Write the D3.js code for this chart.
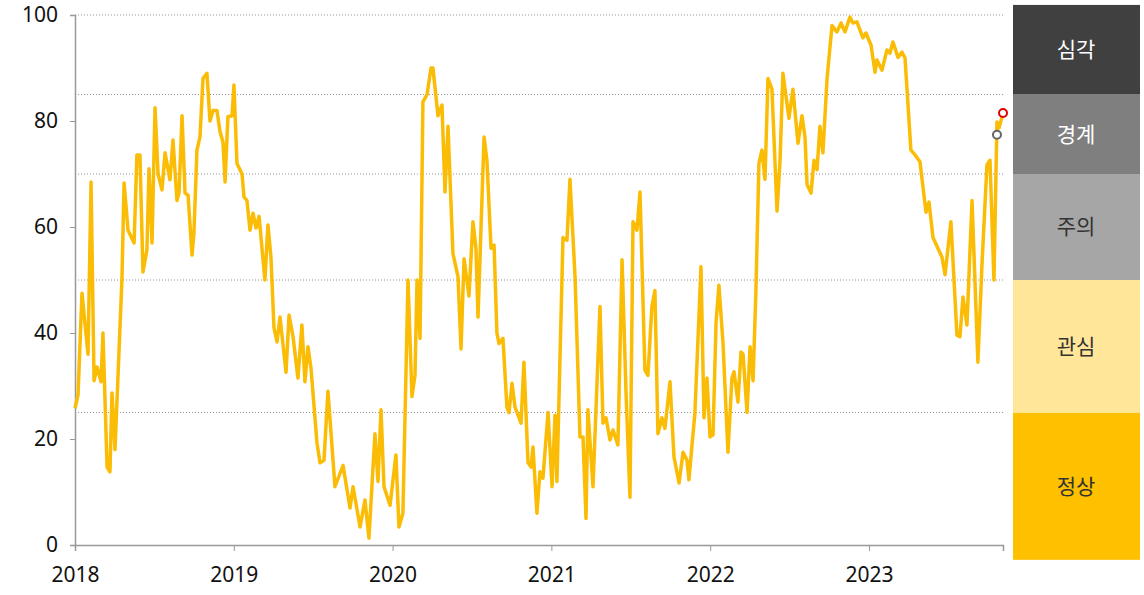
<!DOCTYPE html>
<html><head><meta charset="utf-8">
<script src="https://cdn.jsdelivr.net/npm/d3@7"></script>
<style>body{margin:0;background:#fff;font-family:"Noto Sans CJK KR","Noto Sans",sans-serif}</style>
</head><body><svg id="c" width="1144" height="595"></svg>
<script>
// decimal years since 2018 and index values
const times = [0,.019,.044,.082,.101,.120,.139,.164,.176,.202,.220,.233,.252,.296,.309,.334,.372,.390,.409,.428,.453,.466,.485,.504,.523,.548,.567,.598,.617,.642,.655,.674,.693,.712,.737,.749,.768,.787,.806,.831,.850,.869,.894,.913,.932,.945,.963,.989,1.001,1.020,1.052,1.064,1.083,1.102,1.121,1.140,1.159,1.196,1.215,1.234,1.253,1.272,1.291,1.329,1.348,1.373,1.404,1.429,1.448,1.467,1.486,1.524,1.543,1.568,1.593,1.637,1.688,1.732,1.751,1.795,1.826,1.851,1.889,1.908,1.927,1.946,1.984,2.021,2.040,2.065,2.097,2.122,2.141,2.154,2.173,2.191,2.217,2.242,2.254,2.286,2.311,2.330,2.349,2.380,2.412,2.431,2.450,2.481,2.506,2.525,2.538,2.576,2.594,2.620,2.639,2.657,2.670,2.695,2.720,2.733,2.752,2.771,2.809,2.827,2.853,2.872,2.884,2.909,2.928,2.947,2.979,3.004,3.023,3.035,3.073,3.098,3.117,3.149,3.180,3.199,3.218,3.230,3.262,3.306,3.325,3.344,3.369,3.388,3.419,3.445,3.470,3.495,3.514,3.539,3.558,3.589,3.608,3.633,3.652,3.671,3.696,3.715,3.747,3.772,3.804,3.829,3.854,3.866,3.904,3.942,3.961,3.980,3.999,4.018,4.037,4.055,4.081,4.112,4.137,4.150,4.175,4.194,4.207,4.232,4.251,4.270,4.288,4.307,4.326,4.345,4.364,4.389,4.421,4.440,4.458,4.496,4.521,4.553,4.578,4.597,4.610,4.635,4.654,4.673,4.691,4.710,4.736,4.767,4.798,4.824,4.849,4.880,4.899,4.924,4.962,4.981,5.013,5.038,5.050,5.082,5.113,5.132,5.151,5.183,5.208,5.227,5.264,5.290,5.321,5.359,5.378,5.403,5.460,5.479,5.516,5.554,5.573,5.592,5.617,5.649,5.686,5.712,5.743,5.762,5.787,5.806,5.819,5.844];
const values = [25.8,28.3,47.5,36,68.5,31,33.6,30.8,40,14.7,13.8,28.7,18,50.4,68.3,59.4,57,73.6,73.6,51.5,55.7,71,57,82.5,70,67,74,68.9,76.4,65,66.4,81,66.4,66,54.7,58.9,74.5,77,88,89,80,82,82,78,76,68.5,80.8,81,86.8,72,70,65.7,65,59.4,62.6,59.8,62,50,60.4,54.3,41,38.3,43,32.6,43.4,39.3,31.5,41.5,30.8,37.4,33.4,19.2,15.5,16,29,11,15,7,11,3.4,8.5,1.3,21,12,25.5,11,7.5,17,3.4,6,50,28,32,50,39,83.6,85,90,90,81,83,66.6,79,55,50.6,37,54,47,61,56,43,77,72.6,56,56.6,40,38,39,26,25,30.5,26,23,34.5,15.5,14.7,18.5,6,13.8,12.6,25,11,24.5,12,58,57.5,69,50.6,20.4,20.4,5,25.5,11,45,23,24,19.8,21.7,18.9,53.8,28.7,9,61,59.4,66.6,33,32,45,48,21,24,22,30.8,16.6,11.7,17.5,16,12.3,25,52.5,24,31.5,20.4,20.8,42,49,38,17.5,31.5,32.7,27,36.4,36,25,37.4,31,48,72,74.5,69,88,86,63,72.6,89,80.5,86,75.8,81,77,68,66.4,72.6,70.8,79,74,88,98,96.8,98.5,96.8,99.6,98.5,98.7,95.7,96.6,94.3,89.2,91.5,89.6,93.4,92.8,94.9,92,93,91.9,74.5,73.6,72.3,62.8,64.7,58,54.3,51,61,39.6,39.3,46.8,41.5,65,34.5,53.2,71.7,72.6,50,79.8,78.7,81.5];
const prevPoint = [5.806, 77.4];
const lastPoint = [5.844, 81.5];
const yearTicks = [0,1,2,3,4,5];
const yTicks = [0,20,40,60,80,100];
const gridLevels = [25,50,70,85,100];
const bandNames = ['정상','관심','주의','경계','심각'];
const bandEdges = [-2.8,25,50,70,85,101.9];
const bandColors = ['#ffc000','#ffe699','#a6a6a6','#7f7f7f','#404040'];
const bandText = ['#333','#333','#333','#fff','#fff'];

const svg = d3.select('#c');
const x = d3.scaleLinear().domain([0,5.844]).range([75,1003]);
const y = d3.scaleLinear().domain([0,100]).range([545,15]);

svg.append('g').selectAll('line').data(gridLevels).join('line')
  .attr('x1',75).attr('x2',1003).attr('y1',d=>y(d)).attr('y2',d=>y(d))
  .attr('stroke','#777').attr('stroke-width',0.8).attr('stroke-dasharray','1,2');

const ya = svg.append('g').attr('transform','translate(75,0)')
  .call(d3.axisLeft(y).tickValues(yTicks).tickSize(5).tickPadding(12));
const xa = svg.append('g').attr('transform','translate(0,545)')
  .call(d3.axisBottom(x).tickValues(yearTicks).tickFormat(d=>2018+d).tickSize(6).tickPadding(14));
[ya,xa].forEach(a=>{
  a.select('.domain').attr('stroke','#999').attr('stroke-width',1.5);
  a.selectAll('.tick line').attr('stroke','#999');
  a.selectAll('text').attr('font-size',21).attr('fill','#111').attr('font-family','"Noto Sans",sans-serif');
});
xa.selectAll('text').attr('dy','0.8em');

const pts = times.map((t,i)=>[t,values[i]]);
svg.append('path').datum(pts)
  .attr('fill','none').attr('stroke','#fbbc05').attr('stroke-width',3.5).attr('stroke-linejoin','round')
  .attr('d',d3.line().x(d=>x(d[0])).y(d=>y(d[1])));

svg.append('circle').attr('cx',x(prevPoint[0])).attr('cy',y(prevPoint[1])).attr('r',4)
  .attr('fill','#fff').attr('stroke','#666').attr('stroke-width',2);
svg.append('circle').attr('cx',x(lastPoint[0])).attr('cy',y(lastPoint[1])).attr('r',4)
  .attr('fill','#fff').attr('stroke','#e00000').attr('stroke-width',2);

const bands = svg.append('g');
bandNames.forEach((n,i)=>{
  const y0 = y(bandEdges[i+1]), y1 = y(bandEdges[i]);
  bands.append('rect').attr('x',1013).attr('width',127).attr('y',y0).attr('height',y1-y0).attr('fill',bandColors[i]);
  bands.append('text').attr('x',1076).attr('y',(y0+y1)/2).attr('dy','0.35em')
    .attr('text-anchor','middle').attr('font-size',21).attr('fill',bandText[i]).text(n);
});
</script></body></html>
